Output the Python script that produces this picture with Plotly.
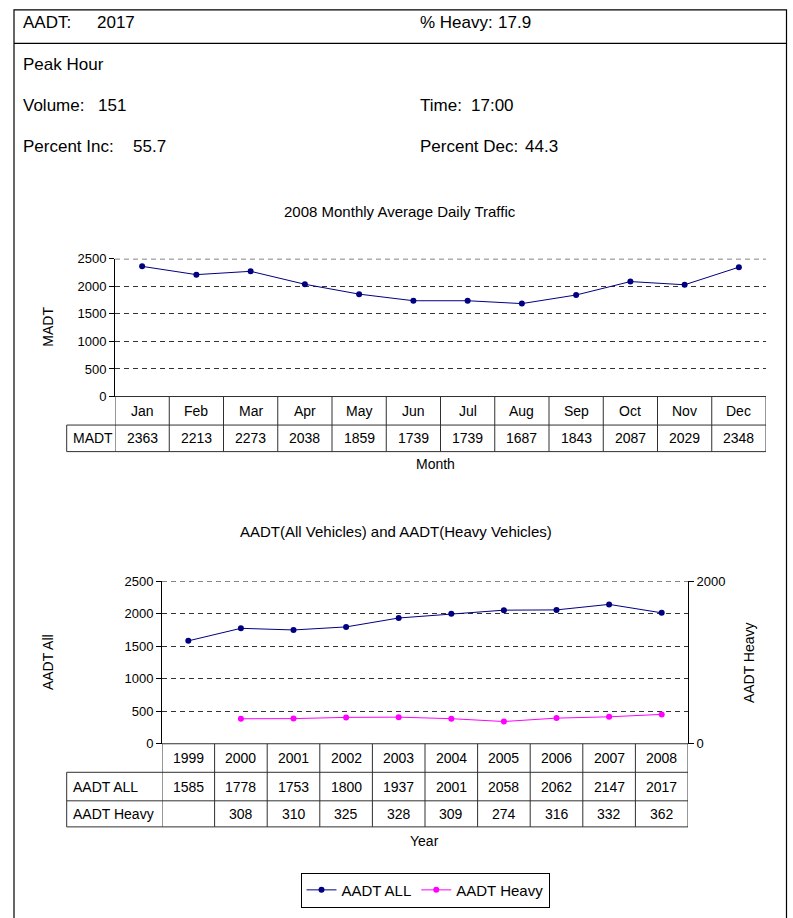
import plotly.graph_objects as go

# ---------------- data ----------------
header_labels = ["AADT:", "% Heavy:", "Peak Hour", "Volume:", "Time:", "Percent Inc:", "Percent Dec:"]
header_values = ["2017", "17.9", "", "151", "17:00", "55.7", "44.3"]

months = ["Jan", "Feb", "Mar", "Apr", "May", "Jun", "Jul", "Aug", "Sep", "Oct", "Nov", "Dec"]
madt = [2363, 2213, 2273, 2038, 1859, 1739, 1739, 1687, 1843, 2087, 2029, 2348]

years = ["1999", "2000", "2001", "2002", "2003", "2004", "2005", "2006", "2007", "2008"]
aadt_all = [1585, 1778, 1753, 1800, 1937, 2001, 2058, 2062, 2147, 2017]
aadt_heavy = [None, 308, 310, 325, 328, 309, 274, 316, 332, 362]

y_ticks = [0, 500, 1000, 1500, 2000, 2500]
heavy_ticks = [0, 2000]

title1 = "2008 Monthly Average Daily Traffic"
title2 = "AADT(All Vehicles) and AADT(Heavy Vehicles)"

# ---------------- layout helpers ----------------
W, H = 793, 918
FONT = "Liberation Sans, Arial, sans-serif"
LINE = "#303030"
GRID = "#333333"
DASH = "5px,4px"
NAVY = "#000080"
MAGENTA = "#FF00FF"


def px(x):
    return x / W


def py(y):
    return 1 - y / H


fig = go.Figure()

fig.add_trace(go.Scatter(x=months, y=madt, mode="lines+markers", name="MADT",
                         line=dict(color=NAVY, width=1), marker=dict(color=NAVY, size=6),
                         xaxis="x", yaxis="y", showlegend=False))
fig.add_trace(go.Scatter(x=years, y=aadt_all, mode="lines+markers", name="AADT ALL",
                         line=dict(color=NAVY, width=1), marker=dict(color=NAVY, size=6),
                         xaxis="x2", yaxis="y2"))
fig.add_trace(go.Scatter(x=years, y=aadt_heavy, mode="lines+markers", name="AADT Heavy",
                         line=dict(color=MAGENTA, width=1), marker=dict(color=MAGENTA, size=6),
                         xaxis="x2", yaxis="y3"))

shapes = []
ann = []


def txt(t, x, y, size=14, angle=0, xanchor="center"):
    ann.append(dict(text=t, x=px(x), y=py(y), xref="paper", yref="paper", showarrow=False,
                    xanchor=xanchor, yanchor="middle", textangle=angle, font=dict(size=size)))


# outer frame + header separator
shapes.append(dict(type="rect", xref="paper", yref="paper", x0=px(14), x1=px(786.5), y0=py(940), y1=py(3),
                   line=dict(color="black", width=1.2)))
shapes.append(dict(type="line", xref="paper", yref="paper", x0=px(14), x1=px(786.5), y0=py(37), y1=py(37),
                   line=dict(color="black", width=1.2)))

# header: label x, value x, row y
hdr_pos = [(21, 95, 16), (418, 496, 16), (21, 0, 58), (21, 96, 100), (418, 469, 100), (21, 131, 142),
           (418, 523, 142)]
for lab, val, (lx, vx, yy) in zip(header_labels, header_values, hdr_pos):
    txt(lab, lx, yy, size=17, xanchor="left")
    if val:
        txt(val, vx, yy, size=17, xanchor="left")


def add_table(xref, n, left_px, plot_l, plot_r, top, row_bottoms, cat_labels, rows):
    for i in range(n + 1):
        shapes.append(dict(type="line", xref=xref, yref="paper", x0=i - 0.5, x1=i - 0.5,
                           y0=py(top), y1=py(row_bottoms[-1]), line=dict(color=LINE, width=1)))
    shapes.append(dict(type="line", xref="paper", yref="paper", x0=px(left_px), x1=px(left_px),
                       y0=py(row_bottoms[0]), y1=py(row_bottoms[-1]), line=dict(color=LINE, width=1)))
    shapes.append(dict(type="line", xref="paper", yref="paper", x0=px(plot_l), x1=px(plot_r),
                       y0=py(top), y1=py(top), line=dict(color=LINE, width=1)))
    for b in row_bottoms:
        shapes.append(dict(type="line", xref="paper", yref="paper", x0=px(left_px), x1=px(plot_r),
                           y0=py(b), y1=py(b), line=dict(color=LINE, width=1)))
    yc = (top + row_bottoms[0]) / 2
    for i, c in enumerate(cat_labels):
        ann.append(dict(text=c, x=i, y=py(yc), xref=xref, yref="paper", showarrow=False,
                        xanchor="center", yanchor="middle", font=dict(size=14)))
    prev = row_bottoms[0]
    for (label, vals), b in zip(rows, row_bottoms[1:]):
        yc = (prev + b) / 2
        txt(label, left_px + 4, yc, xanchor="left")
        for i, v in enumerate(vals):
            if v is not None:
                ann.append(dict(text=str(v), x=i, y=py(yc), xref=xref, yref="paper", showarrow=False,
                                xanchor="center", yanchor="middle", font=dict(size=14)))
        prev = b


add_table("x", len(months), 66.7, 115, 766, 396, [425, 452], months, [("MADT", madt)])
add_table("x2", len(years), 66.7, 162, 688, 749, [778, 807, 833.5], years,
          [("AADT ALL", aadt_all), ("AADT Heavy", aadt_heavy)])

# top gridline (plotly drops gridlines lying on the plot edge)
for yref, l, r in [("y", 115, 766), ("y2", 162, 688)]:
    shapes.append(dict(type="line", xref="paper", yref=yref, x0=px(l), x1=px(r), y0=y_ticks[-1], y1=y_ticks[-1],
                       line=dict(color="black", width=1, dash=DASH)))

txt(title1, 400, 208, size=15)
txt(title2, 396, 533, size=15)
txt("MADT", 48, 325, angle=-90)
txt("Month", 435, 465)
txt("AADT All", 48, 666, angle=-90)
txt("AADT Heavy", 749, 667, angle=-90)
txt("Year", 424, 848)

yax_common = dict(range=[0, 2500], tickvals=y_ticks, showgrid=True,
                  gridcolor=GRID, griddash=DASH, gridwidth=1,
                  showline=True, linecolor="black", linewidth=1, ticks="outside", ticklen=5, tickcolor="black",
                  tickfont=dict(size=13), zeroline=False, fixedrange=True)

fig.update_layout(
    width=W, height=H, autosize=False,
    margin=dict(l=0, r=0, t=0, b=0),
    paper_bgcolor="white", plot_bgcolor="white",
    font=dict(family=FONT, color="black", size=14),
    xaxis=dict(domain=[px(115), px(766)], type="category", categoryarray=months, range=[-0.5, 11.5],
               showticklabels=False, showgrid=False, zeroline=False, showline=False, ticks="", anchor="y"),
    yaxis=dict(domain=[py(396), py(256)], anchor="x", **yax_common),
    xaxis2=dict(domain=[px(162), px(688)], type="category", categoryarray=years, range=[-0.5, 9.5],
                showticklabels=False, showgrid=False, zeroline=False, showline=False, ticks="", anchor="y2"),
    yaxis2=dict(domain=[py(749), py(584)], anchor="x2", **yax_common),
    yaxis3=dict(overlaying="y2", anchor="x2", side="right", range=[0, 2000], tickvals=heavy_ticks,
                showgrid=False, showline=True, linecolor="black", linewidth=1, ticks="outside", ticklen=5,
                tickcolor="black", tickfont=dict(size=13), zeroline=False),
    legend=dict(orientation="h", x=px(425), xanchor="center", y=py(880), yanchor="top",
                bordercolor="black", borderwidth=1, bgcolor="white", font=dict(size=15),
                tracegroupgap=0),
    shapes=shapes,
    annotations=ann,
    showlegend=True,
)

fig.write_html("out.html", post_script="document.body.style.margin='0px';", config={"displayModeBar": False})
